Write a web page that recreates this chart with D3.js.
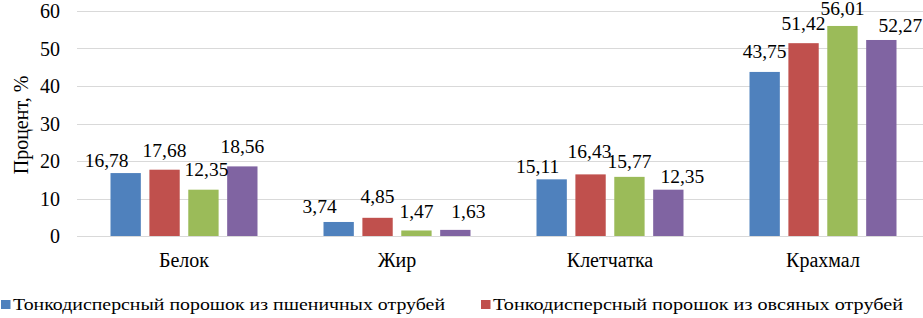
<!DOCTYPE html>
<html>
<head>
<meta charset="utf-8">
<script src="https://cdn.jsdelivr.net/npm/d3@7"></script>
</head>
<body style="margin:0; background:#fff">
<svg id="drawing_region"></svg>
<script>
const categories = ["Белок", "Жир", "Клетчатка", "Крахмал"];
const wheat = [16.78, 3.74, 15.11, 43.75];
const oat = [17.68, 4.85, 16.43, 51.42];
const series3 = [12.35, 1.47, 15.77, 56.01];
const series4 = [18.56, 1.63, 12.35, 52.27];
const yTicks = [0, 10, 20, 30, 40, 50, 60];
const legendNames = [
    "Тонкодисперсный порошок из пшеничных отрубей",
    "Тонкодисперсный порошок из овсяных отрубей"
];

const colors = ["#4F81BD", "#C0504D", "#9BBB59", "#8064A2"];
const allSeries = [wheat, oat, series3, series4];
const FONT = 'Liberation Serif';

// label nudges like the hand-moved labels in the source (px, by category then series)
const labelDx = [
    [-19, 0, 3, 0],
    [-19, 0, 0, 13],
    [-14, -1, 0, 14],
    [0, 0, 0, 19]
];
const labelDy = [
    [4, -3, -4, -3],
    [1, -5, -2, -2],
    [4, -6, 1, 3],
    [-4, -3, -1, 2]
];

const width = 923, height = 318;
const svg = d3.select('#drawing_region')
    .attr('width', width)
    .attr('height', height)
    .style('display', 'block');

const yscale = d3.scaleLinear()
    .domain([0, 60])
    .range([236, 11]);

const xscale = d3.scaleBand()
    .domain(categories)
    .range([77.5, 929.5]);

const inner = d3.scaleBand()
    .domain(d3.range(allSeries.length))
    .range([33, xscale.bandwidth() - 33])
    .paddingInner(0.22);

// gridlines
svg.append('g')
    .selectAll('line')
    .data(yTicks)
    .join('line')
    .attr('x1', 77)
    .attr('x2', width)
    .attr('y1', d => Math.round(yscale(d)) + 0.5)
    .attr('y2', d => Math.round(yscale(d)) + 0.5)
    .attr('stroke', '#D9D9D9')
    .attr('stroke-width', 1);

// y tick labels
svg.append('g')
    .selectAll('text')
    .data(yTicks)
    .join('text')
    .attr('x', 60)
    .attr('y', d => yscale(d) + 7)
    .attr('text-anchor', 'end')
    .attr('font-family', FONT)
    .attr('font-size', 20)
    .text(d => d);

// y axis title
svg.append('text')
    .attr('transform', 'translate(28, 125) rotate(-90)')
    .attr('text-anchor', 'middle')
    .attr('font-family', FONT)
    .attr('font-size', 20)
    .text('Процент, %');

// bars
const groups = svg.append('g')
    .selectAll('g')
    .data(categories)
    .join('g')
    .attr('transform', d => `translate(${xscale(d)}, 0)`);

groups.selectAll('rect')
    .data((d, ci) => allSeries.map((s, si) => ({ si, ci, v: s[ci] })))
    .join('rect')
    .attr('x', d => inner(d.si))
    .attr('width', inner.bandwidth())
    .attr('y', d => yscale(d.v))
    .attr('height', d => yscale(0) - yscale(d.v))
    .attr('fill', d => colors[d.si]);

groups.selectAll('text.val')
    .data((d, ci) => allSeries.map((s, si) => ({ si, ci, v: s[ci] })))
    .join('text')
    .attr('class', 'val')
    .attr('x', d => inner(d.si) + inner.bandwidth() / 2 + labelDx[d.ci][d.si])
    .attr('y', d => yscale(d.v) - 10 + labelDy[d.ci][d.si])
    .attr('text-anchor', 'middle')
    .attr('font-family', FONT)
    .attr('font-size', 19.5)
    .text(d => d3.format('.2f')(d.v).replace('.', ','));

// category labels
svg.append('g')
    .selectAll('text')
    .data(categories)
    .join('text')
    .attr('x', d => xscale(d) + xscale.bandwidth() / 2)
    .attr('y', 267)
    .attr('text-anchor', 'middle')
    .attr('font-family', FONT)
    .attr('font-size', 20)
    .text(d => d);

// legend
const legendX = [1, 481];
const legendLen = [432, 410];
const legend = svg.append('g')
    .selectAll('g')
    .data(legendNames)
    .join('g')
    .attr('transform', (d, i) => `translate(${legendX[i]}, 0)`);

legend.append('rect')
    .attr('x', 0)
    .attr('y', 300)
    .attr('width', 9.5)
    .attr('height', 9)
    .attr('fill', (d, i) => colors[i]);

legend.append('text')
    .attr('x', 12)
    .attr('y', 309.5)
    .attr('font-family', FONT)
    .attr('font-size', 16)
    .attr('textLength', (d, i) => legendLen[i])
    .attr('lengthAdjust', 'spacingAndGlyphs')
    .text(d => d);
</script>
</body>
</html>
